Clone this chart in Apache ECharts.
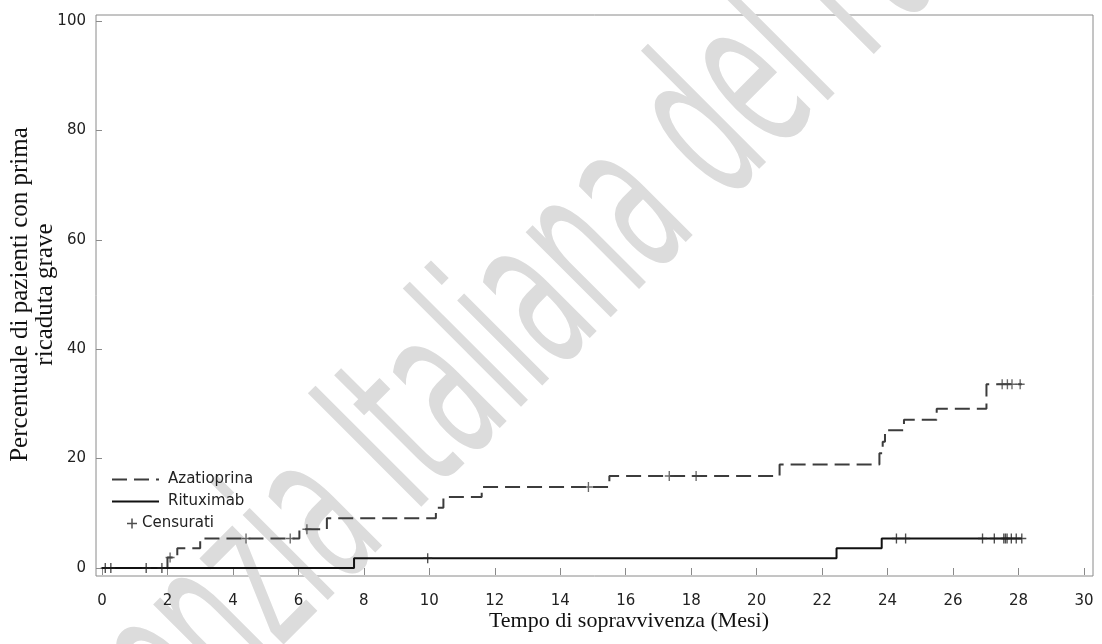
<!DOCTYPE html>
<html>
<head>
<meta charset="utf-8">
<script src="https://cdn.jsdelivr.net/npm/echarts@6/dist/echarts.min.js"></script>
<style>
  html, body { margin: 0; padding: 0; background: #fff; }
  #km-chart { width: 1102px; height: 644px; }
</style>
</head>
<body>
<div id="km-chart"></div>
<script>
// curva Azatioprina (mesi, % ricaduta)
const azaTime = [0, 2.0, 2.3, 3.0, 6.03, 6.87, 10.2, 10.43, 11.6, 15.5, 20.7, 23.75, 23.85, 23.92, 24.5, 25.5, 27.02, 28.1]
const azaPct  = [0, 1.9, 3.6, 5.4, 7.1, 9.1, 11.0, 13.0, 14.8, 16.8, 18.9, 21.0, 23.1, 25.2, 27.1, 29.1, 33.6, 33.6]
// curva Rituximab
const ritTime = [0, 7.7, 22.44, 23.82, 28.1]
const ritPct  = [0, 1.8, 3.6, 5.4, 5.4]
// censurati
const azaCens = [2.08, 4.4, 5.75, 6.26, 14.86, 17.33, 18.15, 27.5, 27.66, 27.8, 28.05]
const ritCens = [0.1, 0.27, 1.35, 1.83, 9.95, 24.27, 24.55, 26.9, 27.26, 27.55, 27.6, 27.65, 27.78, 27.93, 28.1]

const xMax = 30
const yMax = 100

// valore della curva a gradini al tempo t
function stepAt(times, pcts, t) {
  let v = pcts[0]
  for (let i = 0; i < times.length; i++) {
    if (times[i] <= t) v = pcts[i]
  }
  return v
}

const plus = 'path://M4.25,0h1.5v4.25h4.25v1.5h-4.25v4.25h-1.5v-4.25h-4.25v-1.5h4.25z'
const tickFont = 'DejaVu Sans'
const titleFont = 'Liberation Serif'

const chart = echarts.init(document.getElementById('km-chart'))
chart.setOption({
  animation: false,
  backgroundColor: '#fff',
  graphic: [{
    // filigrana
    type: 'text',
    z: 0,
    x: 42,
    y: 805,
    rotation: Math.PI / 4,
    scaleX: 0.495,
    silent: true,
    style: {
      text: 'Agenzia Italiana del Farmaco',
      fontSize: 220,
      fontFamily: 'DejaVu Sans',
      fill: '#dcdcdc',
      align: 'left',
      verticalAlign: 'middle'
    }
  }],
  legend: [{
    data: ['Azatioprina', 'Rituximab'],
    orient: 'vertical',
    left: 106,
    top: 467,
    itemWidth: 47,
    itemHeight: 14,
    itemGap: 7,
    itemStyle: { opacity: 0 },
    textStyle: { fontFamily: tickFont, fontSize: 15, color: '#222', padding: [0, 0, 0, 4] }
  }, {
    data: [{ name: 'Censurati', itemStyle: { color: '#222' } }],
    left: 122,
    top: 511,
    itemWidth: 10,
    itemHeight: 10,
    textStyle: { fontFamily: tickFont, fontSize: 15, color: '#222' }
  }],
  grid: [{
    left: 102, right: 18, top: 21, bottom: 76,
    containLabel: false, outerBoundsMode: 'none'
  }, {
    // cornice
    left: 96, right: 9, top: 15, bottom: 68,
    containLabel: false, outerBoundsMode: 'none',
    show: true, borderColor: '#8a8a8a', borderWidth: 1, backgroundColor: 'transparent'
  }],
  xAxis: [{
    type: 'value',
    gridIndex: 0,
    min: 0,
    max: xMax,
    interval: 2,
    offset: 11,
    splitLine: { show: false },
    axisLine: { show: false },
    axisTick: { show: true, length: 7, lineStyle: { color: '#8a8a8a' } },
    axisLabel: { margin: 15, fontFamily: tickFont, fontSize: 15, color: '#222' },
    name: 'Tempo di sopravvivenza (Mesi)',
    nameLocation: 'middle',
    nameGap: 31,
    nameMoveOverlap: false,
    nameTextStyle: { fontFamily: titleFont, fontSize: 22, color: '#111', padding: [0, 0, 0, 72] }
  }, {
    type: 'value', gridIndex: 1, show: false, min: 0, max: 1
  }],
  yAxis: [{
    type: 'value',
    gridIndex: 0,
    min: 0,
    max: yMax,
    interval: 20,
    offset: 6,
    splitLine: { show: false },
    axisLine: { show: false },
    axisTick: { show: true, length: 6, lineStyle: { color: '#8a8a8a' } },
    axisLabel: { margin: 10, fontFamily: tickFont, fontSize: 15, color: '#222' },
    name: 'Percentuale di pazienti con prima\nricaduta grave',
    nameLocation: 'middle',
    nameRotate: 90,
    nameGap: 38,
    nameMoveOverlap: false,
    nameTextStyle: { fontFamily: titleFont, fontSize: 25, lineHeight: 25, color: '#111', align: 'center' }
  }, {
    type: 'value', gridIndex: 1, show: false, min: 0, max: 1
  }],
  series: [{
    name: 'Azatioprina',
    type: 'line',
    step: 'end',
    showSymbol: false,
    symbol: 'none',
    data: azaTime.map((t, i) => [t, azaPct[i]]),
    lineStyle: { color: '#3c3c3c', width: 2, type: [15, 7] },
    itemStyle: { color: '#3c3c3c' },
    z: 3
  }, {
    name: 'Rituximab',
    type: 'line',
    step: 'end',
    showSymbol: false,
    symbol: 'none',
    data: ritTime.map((t, i) => [t, ritPct[i]]),
    lineStyle: { color: '#111', width: 2, type: 'solid' },
    itemStyle: { color: '#111' },
    z: 4
  }, {
    name: 'Censurati',
    type: 'scatter',
    symbol: plus,
    symbolSize: [9, 10],
    data: ritCens.map(t => [t, stepAt(ritTime, ritPct, t)]),
    itemStyle: { color: '#222' },
    z: 5
  }, {
    name: 'Censurati',
    type: 'scatter',
    symbol: plus,
    symbolSize: [9, 10],
    data: azaCens.map(t => [t, stepAt(azaTime, azaPct, t)]),
    itemStyle: { color: '#444' },
    z: 5
  }]
})
</script>
</body>
</html>
